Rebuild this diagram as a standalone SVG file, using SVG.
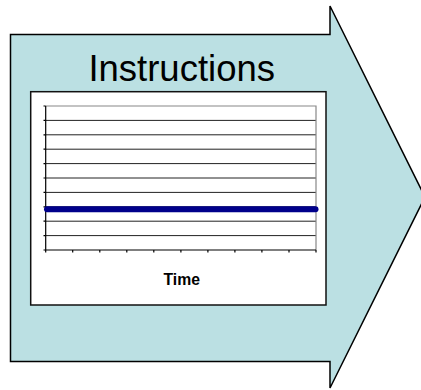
<svg xmlns="http://www.w3.org/2000/svg" width="421" height="390" viewBox="0 0 421 390">
<style>
.grid{stroke:#222;stroke-width:1;fill:none}
.axis{stroke:#000;stroke-width:1.2;fill:none}
.frame{stroke:#888;stroke-width:1.2;fill:none}
.title{font-family:"Liberation Sans",Arial,sans-serif;font-size:36.5px;fill:#000}
.xlabel{font-family:"Liberation Sans",Arial,sans-serif;font-size:17px;font-weight:bold;fill:#000}
</style>
<rect width="421" height="390" fill="#fff"/>
<g id="arrow">
<path d="M10.5,34.5 H330 V6 L425,197 L330,388 V361.5 H10.5 Z" fill="#BBE0E3" stroke="#000" stroke-width="1.5" stroke-linejoin="miter"/>
<text class="title" x="181.7" y="80.5" text-anchor="middle">Instructions</text>
</g>
<g id="chart">
<rect x="30.7" y="91.7" width="295.3" height="213.3" fill="#fff" stroke="#111" stroke-width="1.5"/>
<g class="grid">
<line x1="45.7" y1="120.4" x2="316" y2="120.4"/>
<line x1="45.7" y1="134.8" x2="316" y2="134.8"/>
<line x1="45.7" y1="149.2" x2="316" y2="149.2"/>
<line x1="45.7" y1="163.6" x2="316" y2="163.6"/>
<line x1="45.7" y1="178" x2="316" y2="178"/>
<line x1="45.7" y1="192.4" x2="316" y2="192.4"/>
<line x1="45.7" y1="206.8" x2="316" y2="206.8"/>
<line x1="45.7" y1="221.2" x2="316" y2="221.2"/>
<line x1="45.7" y1="235.6" x2="316" y2="235.6"/>
</g>
<path class="frame" d="M45.7,106 H316 V250"/>
<path class="axis" d="M45.7,106 V250 H316"/>
<g class="axis" stroke-width="1">
<path d="M43.5,106 H45.7 M43.5,120.4 H45.7 M43.5,134.8 H45.7 M43.5,149.2 H45.7 M43.5,163.6 H45.7 M43.5,178 H45.7 M43.5,192.4 H45.7 M43.5,206.8 H45.7 M43.5,221.2 H45.7 M43.5,235.6 H45.7 M43.5,250 H45.7"/>
<path d="M45.7,250 V252.5 M72.7,250 V252.5 M99.8,250 V252.5 M126.8,250 V252.5 M153.8,250 V252.5 M180.9,250 V252.5 M207.9,250 V252.5 M234.9,250 V252.5 M261.9,250 V252.5 M289,250 V252.5 M316,250 V252.5"/>
</g>
<line x1="47" y1="209.2" x2="315.5" y2="209.2" stroke="#00008B" stroke-width="6" stroke-linecap="round"/>
<text class="xlabel" x="181.7" y="285" text-anchor="middle" textLength="36.5" lengthAdjust="spacingAndGlyphs">Time</text>
</g>
</svg>
